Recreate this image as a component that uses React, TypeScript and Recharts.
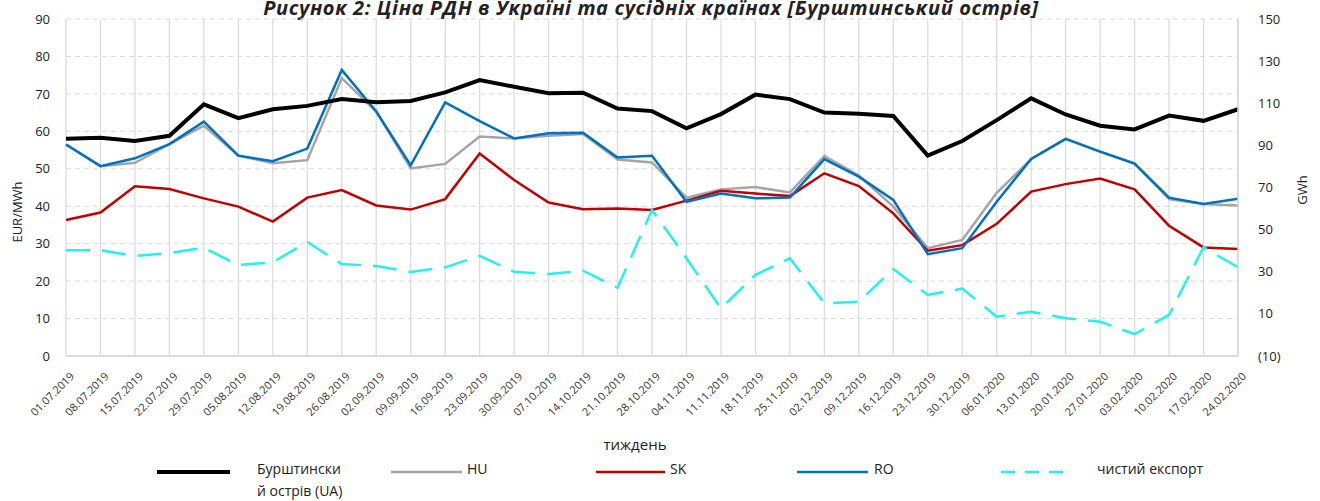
import React from 'react';
import { LineChart, Line, XAxis, YAxis, CartesianGrid, Label } from 'recharts';

const weeks = [
  '01.07.2019', '08.07.2019', '15.07.2019', '22.07.2019', '29.07.2019',
  '05.08.2019', '12.08.2019', '19.08.2019', '26.08.2019',
  '02.09.2019', '09.09.2019', '16.09.2019', '23.09.2019', '30.09.2019',
  '07.10.2019', '14.10.2019', '21.10.2019', '28.10.2019',
  '04.11.2019', '11.11.2019', '18.11.2019', '25.11.2019',
  '02.12.2019', '09.12.2019', '16.12.2019', '23.12.2019', '30.12.2019',
  '06.01.2020', '13.01.2020', '20.01.2020', '27.01.2020',
  '03.02.2020', '10.02.2020', '17.02.2020', '24.02.2020',
];

const burshtyn = [58.0, 58.3, 57.4, 58.8, 67.2, 63.5, 65.9, 66.8, 68.6, 67.8, 68.1, 70.4, 73.7, 71.9, 70.2, 70.3, 66.1, 65.4, 60.8, 64.6, 69.8, 68.6, 65.0, 64.7, 64.1, 53.5, 57.4, 63.0, 68.8, 64.5, 61.5, 60.5, 64.2, 62.8, 65.9];
const hu = [56.5, 50.7, 51.6, 56.6, 61.5, 53.5, 51.5, 52.3, 74.2, 65.3, 50.1, 51.3, 58.6, 58.1, 58.8, 59.3, 52.5, 51.7, 42.3, 44.5, 45.1, 43.7, 53.4, 48.2, 39.9, 28.8, 31.0, 43.6, 52.6, 58.0, 54.6, 51.4, 41.9, 40.6, 40.2];
const sk = [36.3, 38.3, 45.3, 44.6, 42.1, 39.9, 35.9, 42.3, 44.3, 40.2, 39.1, 41.9, 54.1, 47.0, 41.0, 39.2, 39.4, 39.0, 41.5, 44.1, 43.4, 42.7, 48.8, 45.4, 38.1, 28.1, 29.6, 35.3, 43.9, 45.9, 47.4, 44.5, 34.8, 29.0, 28.6];
const ro = [56.5, 50.7, 52.8, 56.6, 62.6, 53.5, 52.0, 55.4, 76.4, 65.3, 50.9, 67.7, 62.7, 58.1, 59.5, 59.6, 53.0, 53.5, 41.2, 43.4, 42.1, 42.3, 52.6, 47.9, 41.7, 27.2, 28.8, 41.2, 52.6, 58.0, 54.6, 51.4, 42.3, 40.6, 42.0];
// net export, GWh (right axis)
const netExport = [40.2, 40.2, 37.5, 38.8, 41.4, 33.2, 34.5, 44.1, 33.7, 32.7, 29.9, 32.1, 37.5, 30.0, 28.9, 30.5, 22.4, 59.3, 36.4, 12.6, 28.5, 36.4, 15.0, 15.8, 31.3, 19.0, 22.0, 8.7, 11.0, 7.9, 6.3, 0.4, 9.5, 41.6, 32.1];

const leftTicks = [0, 10, 20, 30, 40, 50, 60, 70, 80, 90];
const rightTicks = [-10, 10, 30, 50, 70, 90, 110, 130, 150];

const data = weeks.map((w, i) => ({
  week: w,
  ua: burshtyn[i],
  hu: hu[i],
  sk: sk[i],
  ro: ro[i],
  exp: netExport[i],
}));

const FONT = '"Open Sans", sans-serif';

const DateTick = (props: any) => {
  const { x, y, payload } = props;
  return (
    <g transform={`translate(${x + 9},${y + 13})`}>
      <text transform="rotate(-45)" textAnchor="end" fontSize={11} fill="#333" fontFamily={FONT}>
        {payload.value}
      </text>
    </g>
  );
};

const legendItems = [
  { x1: 157, x2: 230, color: '#000000', width: 4, dash: undefined, tx: 257, label: ['Бурштински', 'й острів (UA)'] },
  { x1: 391, x2: 462, color: '#A5A5A5', width: 2.5, dash: undefined, tx: 467, label: ['HU'] },
  { x1: 596, x2: 665, color: '#C00000', width: 2.5, dash: undefined, tx: 670, label: ['SK'] },
  { x1: 797, x2: 868, color: '#0070C0', width: 2.5, dash: undefined, tx: 874, label: ['RO'] },
  { x1: 1001, x2: 1072, color: '#21F1F1', width: 2.5, dash: '14 10', tx: 1097, label: ['чистий експорт'] },
];

export default function App() {
  return (
    <div style={{ position: 'absolute', left: 0, top: 0, width: 1320, height: 501, background: '#fff', overflow: 'hidden', fontFamily: FONT }}>
      <div
        style={{
          position: 'absolute',
          top: -6,
          left: 0,
          width: 1302,
          textAlign: 'center',
          fontSize: 20,
          letterSpacing: 0.6,
          fontWeight: 700,
          fontStyle: 'italic',
          color: '#222',
          whiteSpace: 'nowrap',
        }}
      >
        Рисунок 2: Ціна РДН в Україні та сусідніх країнах [Бурштинський острів]
      </div>
      <LineChart width={1320} height={501} data={data} margin={{ top: 19, right: 0, bottom: 0, left: 0 }}>
        <CartesianGrid yAxisId="left" horizontal={false} stroke="#d9d9d9" strokeWidth={1.2} />
        <CartesianGrid yAxisId="left" vertical={false} stroke="#d9d9d9" strokeDasharray="5 4" />
        <XAxis
          dataKey="week"
          interval={0}
          height={145}
          tick={<DateTick />}
          tickLine={false}
          axisLine={{ stroke: '#d9d9d9', strokeWidth: 2 }}
        >
          <Label
            content={() => (
              <text x={635} y={450} textAnchor="middle" fontSize={15} fill="#222" fontFamily={FONT}>
                тиждень
              </text>
            )}
          />
        </XAxis>
        <YAxis
          yAxisId="left"
          width={66}
          domain={[0, 90]}
          ticks={leftTicks}
          axisLine={false}
          tickLine={false}
          tickMargin={10}
          tick={{ fontSize: 13, fill: '#222', fontFamily: FONT }}
        >
          <Label
            content={() => (
              <text x={22} y={212} transform="rotate(-90 22 212)" textAnchor="middle" fontSize={13} fill="#222" fontFamily={FONT}>
                EUR/MWh
              </text>
            )}
          />
        </YAxis>
        <YAxis
          yAxisId="right"
          orientation="right"
          width={82}
          domain={[-10, 150]}
          ticks={rightTicks}
          axisLine={{ stroke: '#d9d9d9', strokeWidth: 1.5 }}
          tickLine={false}
          tickMargin={14}
          tickFormatter={(v: number) => (v < 0 ? `(${-v})` : `${v}`)}
          tick={{ fontSize: 13, fill: '#222', fontFamily: FONT }}
        >
          <Label
            content={() => (
              <text x={1307} y={190} transform="rotate(-90 1307 190)" textAnchor="middle" fontSize={13} fill="#222" fontFamily={FONT}>
                GWh
              </text>
            )}
          />
        </YAxis>
        <Line yAxisId="left" dataKey="hu" stroke="#A5A5A5" strokeWidth={2.5} dot={false} isAnimationActive={false} />
        <Line yAxisId="left" dataKey="sk" stroke="#C00000" strokeWidth={2.5} dot={false} isAnimationActive={false} />
        <Line yAxisId="left" dataKey="ro" stroke="#0070C0" strokeWidth={2.5} dot={false} isAnimationActive={false} />
        <Line yAxisId="left" dataKey="ua" stroke="#000000" strokeWidth={4} dot={false} isAnimationActive={false} />
        <Line yAxisId="right" dataKey="exp" stroke="#21F1F1" strokeWidth={2.5} strokeDasharray="24 12" dot={false} isAnimationActive={false} />
      </LineChart>
      <svg width={1320} height={60} style={{ position: 'absolute', left: 0, top: 441 }}>
        {legendItems.map((it) => (
          <g key={it.tx}>
            <line x1={it.x1} x2={it.x2} y1={31} y2={31} stroke={it.color} strokeWidth={it.width} strokeDasharray={it.dash} />
            {it.label.map((l, j) => (
              <text key={j} x={it.tx} y={33 + j * 22} fontSize={14} fill="#222" fontFamily={FONT}>
                {l}
              </text>
            ))}
          </g>
        ))}
      </svg>
    </div>
  );
}
